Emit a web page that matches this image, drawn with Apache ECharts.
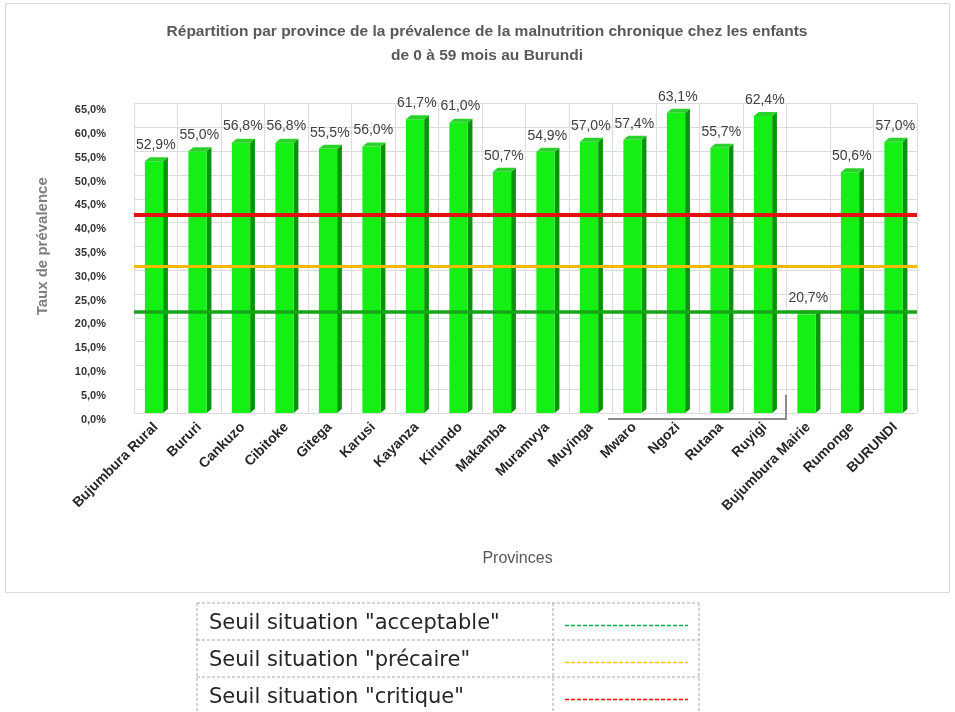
<!DOCTYPE html>
<html>
<head>
<meta charset="utf-8">
<script src="https://cdn.jsdelivr.net/npm/echarts@6/dist/echarts.min.js"></script>
<style>
  html, body { margin: 0; padding: 0; background: #fff; }
  #chart { width: 955px; height: 712px; }
</style>
</head>
<body>
<div id="chart"></div>
<script>
// Prévalence de la malnutrition chronique (0-59 mois) par province
const provinces = [
  'Bujumbura Rural', 'Bururi', 'Cankuzo', 'Cibitoke', 'Gitega', 'Karusi',
  'Kayanza', 'Kirundo', 'Makamba', 'Muramvya', 'Muyinga', 'Mwaro',
  'Ngozi', 'Rutana', 'Ruyigi', 'Bujumbura Mairie', 'Rumonge', 'BURUNDI'
];
const prevalence = [
  52.9, 55.0, 56.8, 56.8, 55.5, 56.0,
  61.7, 61.0, 50.7, 54.9, 57.0, 57.4,
  63.1, 55.7, 62.4, 20.7, 50.6, 57.0
];

// Seuils tracés sur le graphique
const thresholdNames = ['Seuil situation "acceptable"', 'Seuil situation "précaire"', 'Seuil situation "critique"'];
const thresholdValues = [21.3, 30.9, 41.7];
const thresholdLineColors = ['#14a614', '#f7b900', '#e31212'];
const thresholdLegendColors = ['#00b050', '#ffc000', '#ff0000'];
const thresholdWidths = [3.5, 3, 4];

// Axe des taux
const yMin = 0, yMax = 65, yStep = 5;

const FONT = '"Liberation Sans", Arial, sans-serif';
const pct = v => v.toFixed(1).replace('.', ',') + '%';

const chart = echarts.init(document.getElementById('chart'), null, { renderer: 'canvas' });

// Barres en relief : face avant, flanc droit et dessus
function renderBar(params, api) {
  const i = api.value(0), v = api.value(1);
  const p = api.coord([i, v]);
  const b = api.coord([i, 0]);
  const band = api.size([1, 0])[0];
  const cx = p[0];
  const fl = cx - band * 0.25, fr = cx + band * 0.17;
  const dx = band * 0.11, dy = 4;
  const top = p[1], base = b[1];
  return {
    type: 'group',
    children: [
      { type: 'polygon', shape: { points: [[fr, top], [fr + dx, top - dy], [fr + dx, base - dy], [fr, base]] },
        style: { fill: '#0a930a' } },
      { type: 'rect', shape: { x: fl, y: top, width: fr - fl, height: base - top },
        style: { fill: '#14ef14' } },
      { type: 'polygon', shape: { points: [[fl, top], [fr, top], [fr + dx, top - dy], [fl + dx, top - dy]] },
        style: { fill: '#2bd22b' } },
      { type: 'text', x: cx, y: top - 16,
        style: { text: pct(v), align: 'center', verticalAlign: 'middle', font: '14px ' + FONT, fill: '#404040' } }
    ]
  };
}

const thresholdSeries = thresholdValues.map((v, k) => ({
  type: 'line',
  name: thresholdNames[k],
  data: [],
  z: 5,
  markLine: {
    silent: true,
    symbol: 'none',
    label: { show: false },
    lineStyle: { color: thresholdLineColors[k], width: thresholdWidths[k], type: 'solid' },
    data: [{ yAxis: v }]
  }
}));

// Tableau des seuils sous le graphique
const tblX0 = 197, tblX1 = 553, tblX2 = 699;
const rowTops = [603, 640, 677, 714];
const tableGraphics = [];
const dashStyle = { stroke: '#a6a6a6', lineWidth: 1, lineDash: [3, 2] };
rowTops.forEach(y => tableGraphics.push({ type: 'line', shape: { x1: tblX0, y1: y, x2: tblX2, y2: y }, style: dashStyle }));
[tblX0, tblX1, tblX2].forEach(x => tableGraphics.push({ type: 'line', shape: { x1: x, y1: rowTops[0], x2: x, y2: rowTops[3] }, style: dashStyle }));
thresholdNames.forEach((name, k) => {
  const cy = (rowTops[k] + rowTops[k + 1]) / 2;
  tableGraphics.push({ type: 'text', x: 209, y: cy + 2,
    style: { text: name, font: '21px "DejaVu Sans", sans-serif', fill: '#262626', verticalAlign: 'middle', align: 'left' } });
  tableGraphics.push({ type: 'line', shape: { x1: 565, y1: cy + 4, x2: 688, y2: cy + 4 },
    style: { stroke: thresholdLegendColors[k], lineWidth: 1.5, lineDash: [4, 2] } });
});

const option = {
  backgroundColor: '#ffffff',
  animation: false,
  textStyle: { fontFamily: FONT },
  grid: { left: 134, right: 38, top: 103.6, bottom: 299, containLabel: false },
  xAxis: {
    type: 'category',
    data: provinces,
    name: 'Provinces',
    nameLocation: 'middle',
    nameGap: 138,
    nameTextStyle: { fontSize: 16, color: '#595959', fontFamily: FONT, padding: [0, 16, 0, 0] },
    axisLine: { show: false },
    axisTick: { show: false },
    splitLine: { show: true, interval: 0, lineStyle: { color: '#dcdcdc', width: 1 } },
    axisLabel: {
      interval: 0, rotate: 45, margin: 12,
      fontSize: 14, fontWeight: 'bold', color: '#262626', fontFamily: FONT
    }
  },
  yAxis: {
    type: 'value',
    min: yMin, max: yMax, interval: yStep,
    name: 'Taux de prévalence',
    nameLocation: 'middle',
    nameGap: 84,
    nameTextStyle: { fontSize: 15, fontWeight: 'bold', color: '#7f7f7f', fontFamily: FONT, padding: [0, 0, 0, 24] },
    axisLine: { show: false },
    axisTick: { show: false },
    splitLine: { show: true, lineStyle: { color: '#dcdcdc', width: 1 } },
    axisLabel: {
      formatter: v => pct(v), margin: 28,
      fontSize: 11, fontWeight: 'bold', color: '#333333', fontFamily: FONT,
      verticalAlign: 'top', padding: [1, 0, 0, 0]
    }
  },
  series: [
    {
      type: 'custom',
      name: 'Prévalence',
      renderItem: renderBar,
      encode: { x: 0, y: 1 },
      data: prevalence.map((v, i) => [i, v]),
      z: 2
    },
    ...thresholdSeries
  ],
  graphic: [
    { type: 'rect', z: -10, shape: { x: 5.5, y: 3.5, width: 944, height: 589 },
      style: { fill: '#ffffff', stroke: '#d9d9d9', lineWidth: 1 } },
    { type: 'text', x: 487, y: 44,
      style: {
        text: 'Répartition par province de la prévalence de la malnutrition chronique chez les enfants\nde 0 à 59 mois au Burundi',
        align: 'center', verticalAlign: 'middle', lineHeight: 24,
        font: 'bold 15.5px ' + FONT, fill: '#595959'
      } },
    { type: 'polyline', z: 10, shape: { points: [[608, 419], [786, 419], [786, 395]] },
      style: { stroke: '#8c8c8c', lineWidth: 2, fill: null } },
    ...tableGraphics
  ]
};

chart.setOption(option);
</script>
</body>
</html>
